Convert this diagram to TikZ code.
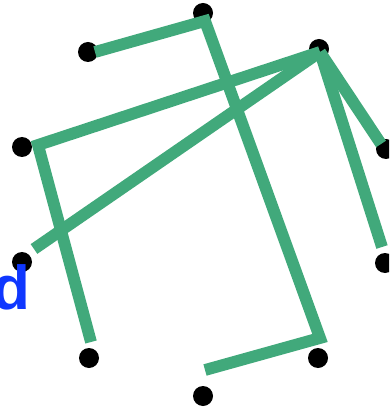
\documentclass[tikz,border=0pt]{standalone}
\usepackage{fontspec}
\setmainfont{Liberation Sans}
\definecolor{edgegreen}{RGB}{65,169,123}
\definecolor{labelblue}{RGB}{15,55,255}
\begin{document}
\begin{tikzpicture}[x=1pt,y=-1pt,
  dot/.style={circle,fill=black,inner sep=0pt,minimum size=20pt},
  edge/.style={draw=edgegreen,line width=11.8pt,line join=miter,line cap=butt},
  lbl/.style={text=labelblue,font=\bfseries\fontsize{62}{62}\selectfont,inner sep=0pt,anchor=base east}]
\clip (0,0) rectangle (389,411);
% dots
\node[dot] (t)  at (203,13) {};
\node[dot] (ul) at (88,52) {};
\node[dot] (ur) at (319,49) {};
\node[dot] (l)  at (22,147) {};
\node[dot] (r)  at (386,149) {};
\node[dot] (ll) at (22,262) {};
\node[dot] (rl) at (385,263) {};
\node[dot] (bl) at (89,358) {};
\node[dot] (br) at (318,358) {};
\node[dot] (b)  at (203,396) {};
% line end points
\coordinate (a1) at (95,52);
\coordinate (a2) at (205,21);
\coordinate (a3) at (320,338);
\coordinate (a4) at (205,370);
\coordinate (j)  at (320,52);
\coordinate (c1) at (38,145);
\coordinate (c2) at (91,342);
\coordinate (e1) at (34,249);
\coordinate (e2) at (381,144);
\coordinate (e3) at (382,247);
% edges
\draw[edge] (a1) -- (a2) -- (a3) -- (a4);
\draw[edge] (j) -- (c1) -- (c2);
\draw[edge] (j) -- (e1);
\draw[edge] (j) -- (e2);
\draw[edge] (j) -- (e3);
% label
\node[lbl] (d) at (31,309) {d};
\end{tikzpicture}
\end{document}
